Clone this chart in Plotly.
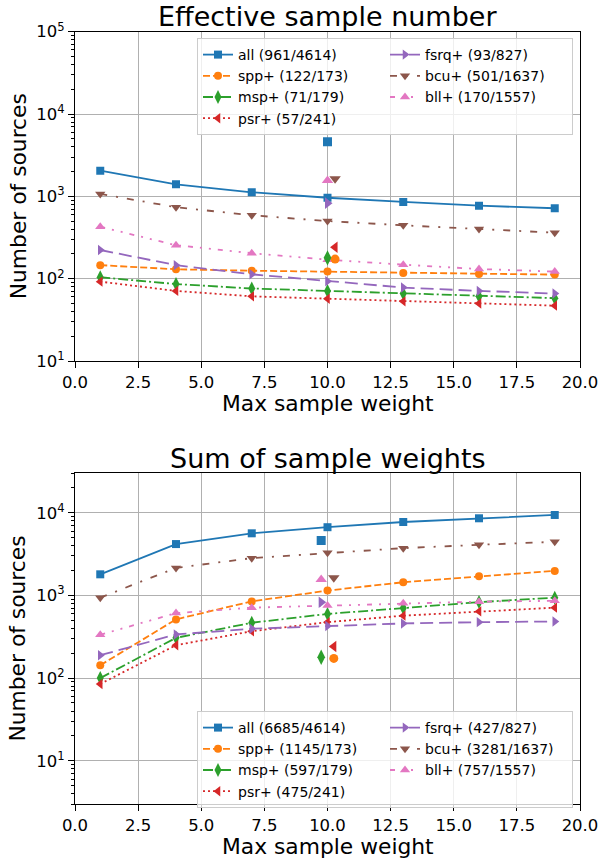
import math
import plotly.graph_objects as go

# ---------------- data ----------------
weights = [1, 4, 7, 10, 13, 16, 19]
names = ["all", "spp+", "msp+", "psr+", "fsrq+", "bcu+", "bll+"]
totals = [4614, 173, 179, 241, 827, 1637, 1557]

eff_all = [2050, 1400, 1120, 961, 855, 770, 717]
eff_spp = [146, 130, 125, 122, 117, 114, 112]
eff_msp = [104, 86, 76, 71, 66, 61, 58]
eff_psr = [92, 71, 61, 57, 53, 50, 47]
eff_fsrq = [223, 146, 113, 93, 78, 71, 66]
eff_bcu = [1069, 738, 589, 501, 445, 402, 362]
eff_bll = [428, 255, 204, 170, 148, 131, 122]

sum_all = [1800, 4180, 5640, 6685, 7730, 8570, 9400]
sum_spp = [143, 513, 847, 1145, 1443, 1706, 1980]
sum_msp = [100, 307, 467, 597, 703, 830, 940]
sum_psr = [85, 250, 369, 475, 569, 641, 711]
sum_fsrq = [189, 337, 395, 427, 458, 475, 484]
sum_bcu = [940, 2153, 2825, 3281, 3733, 4093, 4455]
sum_bll = [334, 611, 711, 757, 802, 841, 860]

eff_legend = [961, 122, 71, 57, 93, 501, 170]
sum_legend = [6685, 1145, 597, 475, 427, 3281, 757]

total_x_top = [10.0, 10.3, 10.0, 10.3, 10.0, 10.3, 10.0]
total_x_bottom = [9.75, 10.25, 9.75, 10.25, 9.75, 10.25, 9.75]

x_tick_vals = [0, 2.5, 5, 7.5, 10, 12.5, 15, 17.5, 20]
x_tick_text = ["0.0", "2.5", "5.0", "7.5", "10.0", "12.5", "15.0", "17.5", "20.0"]
y_tick_vals = [10, 100, 1000, 10000, 100000]
y_tick_text = ["10<sup>1</sup>", "10<sup>2</sup>", "10<sup>3</sup>", "10<sup>4</sup>", "10<sup>5</sup>"]

eff_series = [eff_all, eff_spp, eff_msp, eff_psr, eff_fsrq, eff_bcu, eff_bll]
sum_series = [sum_all, sum_spp, sum_msp, sum_psr, sum_fsrq, sum_bcu, sum_bll]

# ---------------- styles ----------------
colors = ["#1f77b4", "#ff7f0e", "#2ca02c", "#d62728", "#9467bd", "#8c564b", "#e377c2"]
symbols = ["square", "circle", "diamond-tall", "triangle-left", "triangle-right",
           "triangle-down", "triangle-up"]
msizes = [8, 8, 10, 9, 9, 9, 9]
dashes = ["solid", "7px,3px", "10px,3px,2px,3px", "2px,3px", "13px,6px",
          "7px,9px,2px,9px", "5px,7px,2px,7px,2px,7px"]
ranks = [1, 3, 5, 7, 2, 4, 6]

FONT = "DejaVu Sans"
W, H = 601, 862
ML, MR = 75, 21
PW = W - ML - MR

fig = go.Figure()

panels = [
    (eff_series, eff_legend, total_x_top, "x", "y", "legend"),
    (sum_series, sum_legend, total_x_bottom, "x2", "y2", "legend2"),
]
for series, legvals, tx, xa, ya, leg in panels:
    for i, name in enumerate(names):
        fig.add_trace(go.Scatter(
            x=weights, y=series[i], xaxis=xa, yaxis=ya,
            mode="lines+markers",
            name=f"{name} ({legvals[i]}/{totals[i]})",
            line=dict(color=colors[i], width=1.8, dash=dashes[i]),
            marker=dict(symbol=symbols[i], size=msizes[i], color=colors[i]),
            legend=leg, legendrank=ranks[i],
        ))
    for i, name in enumerate(names):
        fig.add_trace(go.Scatter(
            x=[tx[i]], y=[totals[i]], xaxis=xa, yaxis=ya,
            mode="markers", showlegend=False,
            marker=dict(symbol=symbols[i], size=msizes[i] + 1, color=colors[i]),
        ))


def px_y(py):
    return (H - py) / H


def px_x(px):
    return (px - ML) / PW


common_axis = dict(
    showline=True, linecolor="black", linewidth=1, mirror=True,
    ticks="outside", ticklen=6, tickwidth=1, tickcolor="black",
    showgrid=True, gridcolor="#b0b0b0", gridwidth=1, zeroline=False,
    tickfont=dict(family=FONT, size=16.5, color="black"), automargin=False,
)

xcommon = dict(common_axis, range=[0, 20], tickmode="array",
               tickvals=x_tick_vals, ticktext=x_tick_text)
ycommon = dict(common_axis, type="log", tickmode="array",
               tickvals=y_tick_vals, ticktext=y_tick_text,
               minor=dict(ticks="outside", ticklen=3.5, tickcolor="black",
                          showgrid=False, dtick="D1"))

top_dom = [px_y(361), px_y(31.7)]
bot_dom = [px_y(804), px_y(473.3)]

legend_common = dict(
    orientation="h", entrywidth=142, xanchor="right", yanchor="top",
    font=dict(family=FONT, size=14, color="black"),
    bgcolor="rgba(255,255,255,0.8)", bordercolor="#cccccc", borderwidth=1,
)

fig.update_layout(
    width=W, height=H,
    margin=dict(l=ML, r=MR, t=0, b=0, pad=0),
    paper_bgcolor="white", plot_bgcolor="white",
    font=dict(family=FONT, color="black"),
    xaxis=dict(xcommon, anchor="y", domain=[0, 1]),
    yaxis=dict(ycommon, anchor="x", domain=top_dom,
               range=[1, 5]),
    xaxis2=dict(xcommon, anchor="y2", domain=[0, 1]),
    yaxis2=dict(ycommon, anchor="x2", domain=bot_dom,
                range=[math.log10(3), math.log10(30000)]),
    legend=dict(legend_common, x=px_x(573), y=px_y(38)),
    legend2=dict(legend_common, x=px_x(573), y=px_y(711)),
    showlegend=True,
)

annots = [
    ("Effective sample number", 0.5, px_y(17), 27, 0),
    ("Sum of sample weights", 0.5, px_y(458), 27, 0),
    ("Max sample weight", 0.5, px_y(403), 21.8, 0),
    ("Max sample weight", 0.5, px_y(846), 21.8, 0),
    ("Number of sources", px_x(18), px_y(196.3), 21.8, -90),
    ("Number of sources", px_x(18), px_y(638.6), 21.8, -90),
]
for text, ax_, ay_, size, ang in annots:
    fig.add_annotation(
        text=text, x=ax_, y=ay_, xref="paper", yref="paper",
        xanchor="center", yanchor="middle", showarrow=False,
        textangle=ang, font=dict(family=FONT, size=size, color="black"),
    )

fig.write_html("out.html")
